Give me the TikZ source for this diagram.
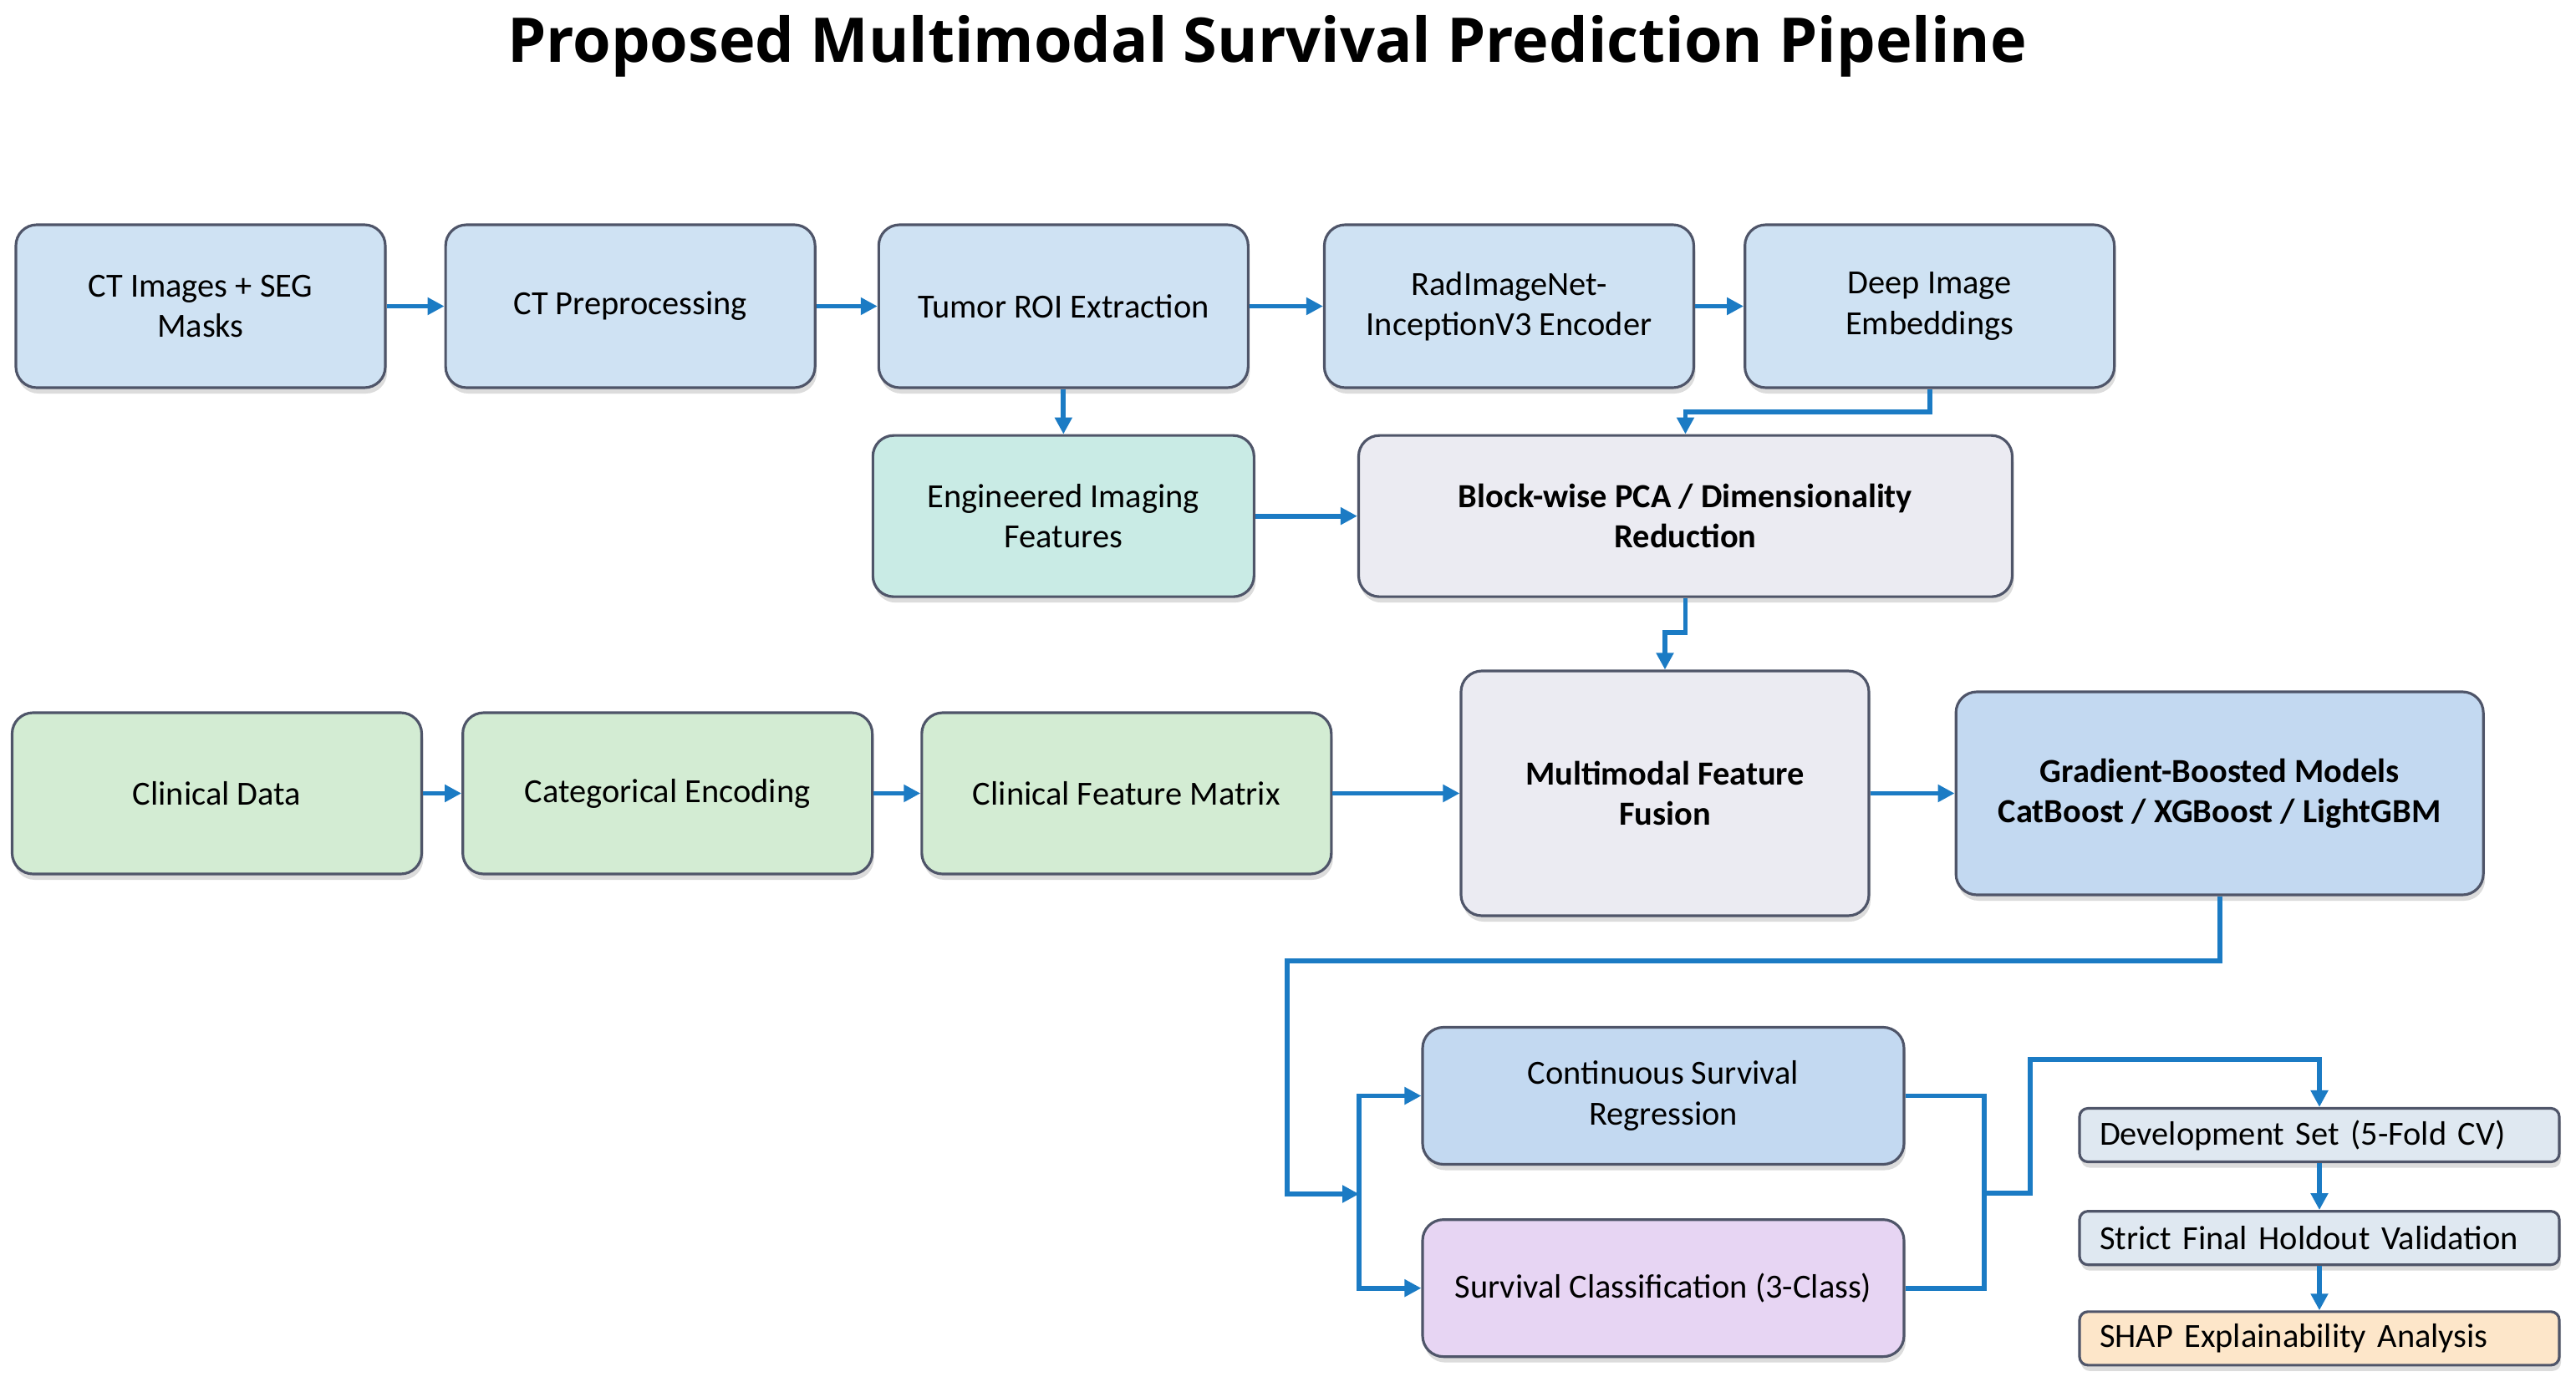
\documentclass[tikz,border=0pt]{standalone}
\usepackage{fontspec}
\setmainfont{Carlito}
\newfontfamily\titlefont{Open Sans}
\usepackage{xcolor}
\usepackage{tikz}
\usetikzlibrary{positioning,arrows.meta,shadows}

\definecolor{flowblue}{HTML}{1B7BC4}
\definecolor{boxline}{HTML}{4F5569}
\definecolor{imgfill}{HTML}{CFE2F3}
\definecolor{modelfill}{HTML}{C3D9F1}
\definecolor{tealfill}{HTML}{C9EBE5}
\definecolor{clinfill}{HTML}{D3ECD3}
\definecolor{grayfill}{HTML}{EBEBF2}
\definecolor{purplefill}{HTML}{E7D5F3}
\definecolor{palefill}{HTML}{DFE8F1}
\definecolor{peachfill}{HTML}{FDE6C9}

\tikzset{
  box/.style={draw=boxline, line width=0.9pt, rounded corners=0.25cm, align=center, inner sep=2pt,
    drop shadow={shadow xshift=0.02cm, shadow yshift=-0.07cm, opacity=0.3, fill=black!45}},
  strong/.style={font=\fontsize{11.5}{13.8}\selectfont\bfseries},
  imgbox/.style={box, fill=imgfill, minimum width=4.42cm, minimum height=1.95cm},
  clinbox/.style={box, fill=clinfill, minimum width=4.9cm, minimum height=1.93cm},
  taskbox/.style={box, minimum width=5.76cm, minimum height=1.64cm},
  evalbox/.style={box, rounded corners=0.1cm, align=left, text width=5.26cm, inner xsep=0.24cm,
    inner ysep=0.1cm, minimum height=0.64cm},
  flow/.style={draw=flowblue, line width=1.7pt, -{Triangle[length=0.2cm, width=0.2cm]}},
  wire/.style={draw=flowblue, line width=1.7pt}
}

\begin{document}
\begin{tikzpicture}[every node/.style={font=\fontsize{11.5}{13.8}\selectfont}]
  \useasboundingbox (0,0) rectangle (30.82,-16.60);
  \node[anchor=base, font=\titlefont\bfseries\fontsize{21}{25}\selectfont] (title) at (15.16,-0.75) {Proposed Multimodal Survival Prediction Pipeline};

  % imaging branch
  \node[imgbox] (ct) at (2.40,-3.665) {CT Images + SEG\\Masks};
  \node[imgbox, right=0.69cm of ct] (prep) {CT Preprocessing};
  \node[imgbox, right=0.73cm of prep] (roi) {Tumor ROI Extraction};
  \node[imgbox, right=0.88cm of roi] (enc) {RadImageNet-\\InceptionV3 Encoder};
  \node[imgbox, right=0.58cm of enc] (emb) {Deep Image\\Embeddings};
  \node[box, fill=tealfill, minimum width=4.56cm, minimum height=1.93cm, below=0.54cm of roi] (eng) {Engineered Imaging\\Features};
  \node[box, strong, fill=grayfill, minimum width=7.82cm, minimum height=1.93cm, right=1.22cm of eng] (pca) {Block-wise PCA / Dimensionality\\Reduction};

  % clinical branch and fusion
  \node[clinbox] (clin) at (2.595,-9.495) {Clinical Data};
  \node[clinbox, right=0.46cm of clin] (cat) {Categorical Encoding};
  \node[clinbox, right=0.56cm of cat] (cfm) {Clinical Feature Matrix};
  \node[box, strong, fill=grayfill, minimum width=4.88cm, minimum height=2.93cm, right=1.52cm of cfm] (fusion) {Multimodal Feature\\Fusion};
  \node[box, strong, fill=modelfill, minimum width=6.31cm, minimum height=2.43cm, right=1.01cm of fusion] (gbm) {Gradient-Boosted Models\\CatBoost / XGBoost / LightGBM};

  % tasks and evaluation
  \node[taskbox, fill=modelfill] (reg) at (19.90,-13.115) {Continuous Survival\\Regression};
  \node[taskbox, fill=purplefill, below=0.63cm of reg] (cls) {Survival Classification (3-Class)};
  \node[evalbox, fill=palefill] (dev) at (27.75,-13.585) {Development Set (5-Fold CV)};
  \node[evalbox, fill=palefill, below=0.56cm of dev] (hold) {Strict Final Holdout Validation};
  \node[evalbox, fill=peachfill, below=0.53cm of hold] (shap) {SHAP Explainability Analysis};

  \coordinate (leftrail) at (15.40,-11.50);
  \coordinate (split) at (16.26,-14.29);
  \coordinate (merge) at (23.74,-14.28);
  \coordinate (devrail) at (24.29,-12.68);

  \draw[flow] (ct) -- (prep);
  \draw[flow] (prep) -- (roi);
  \draw[flow] (roi) -- (enc);
  \draw[flow] (enc) -- (emb);
  \draw[flow] (roi) -- (eng);
  \draw[flow] (emb.south) -- ++(0,-0.27) -| (pca.north);
  \draw[flow] (eng) -- (pca);
  \draw[flow] (pca.south) -- ++(0,-0.41) -| (fusion.north);
  \draw[flow] (clin) -- (cat);
  \draw[flow] (cat) -- (cfm);
  \draw[flow] (cfm) -- (fusion);
  \draw[flow] (fusion) -- (gbm);
  \draw[flow] (gbm.south) |- (leftrail) |- (split);
  \draw[flow] (split) |- (reg.west);
  \draw[flow] (split) |- (cls.west);
  \draw[wire] (reg.east) -| (merge);
  \draw[wire] (cls.east) -| (merge);
  \draw[flow] (merge) -| (devrail) -| (dev.north);
  \draw[flow] (dev) -- (hold);
  \draw[flow] (hold) -- (shap);
\end{tikzpicture}
\end{document}
